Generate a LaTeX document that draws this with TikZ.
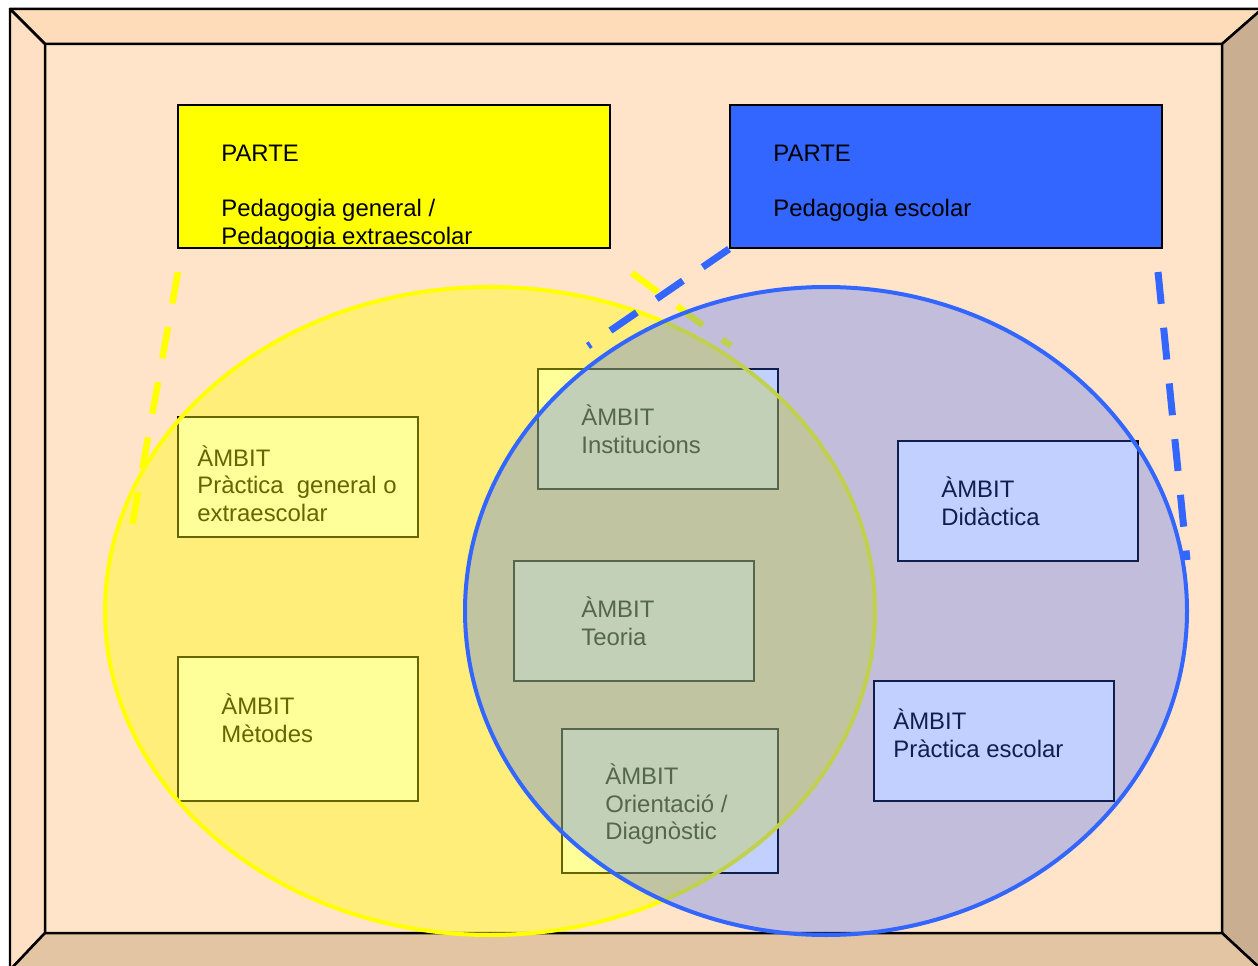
\documentclass[tikz,border=0pt]{standalone}
\usepackage{fontspec}
\setmainfont{Liberation Sans}
\usetikzlibrary{positioning}
\definecolor{peach}{HTML}{FFE4CA}
\definecolor{peachtop}{HTML}{FEDCB9}
\definecolor{peachleft}{HTML}{FFE0C4}
\definecolor{tanright}{HTML}{C9AE92}
\definecolor{tanbottom}{HTML}{E3C5A3}
\definecolor{partblue}{HTML}{3366FF}
\definecolor{partyellow}{HTML}{FFFF00}

\begin{document}
\begin{tikzpicture}[x=0.02cm, y=-0.02cm,
  frame/.style={draw=black, line width=0.05cm, line join=round},
  ambit/.style={rectangle, draw=black, fill=white, line width=0.04cm, minimum width=4.8cm, minimum height=2.4cm, inner sep=0pt},
  parte/.style={rectangle, draw=black, line width=0.04cm, minimum width=8.64cm, minimum height=2.86cm, inner sep=0pt},
  txt/.style={inner sep=0pt, align=left, font=\fontsize{13.6}{15.7}\selectfont},
  yellowdash/.style={draw=partyellow, line width=0.13cm, dash pattern=on 0.64cm off 0.48cm},
  bluedash/.style={draw=partblue, line width=0.14cm, dash pattern=on 0.64cm off 0.48cm}]

  \useasboundingbox (0,0) rectangle (1258,966);

  \fill[peach] (45,44) rectangle (1222,933);
  \filldraw[frame, fill=peachtop] (10,9) -- (1262,9) -- (1222,44) -- (45,44) -- cycle;
  \filldraw[frame, fill=peachleft] (10,9) -- (45,44) -- (45,933) -- (10,970) -- cycle;
  \filldraw[frame, fill=tanright] (1262,9) -- (1262,970) -- (1222,933) -- (1222,44) -- cycle;
  \filldraw[frame, fill=tanbottom] (10,970) -- (45,933) -- (1222,933) -- (1262,970) -- cycle;

  \node[parte, fill=partyellow] (partegen) at (394,176.5) {};
  \node[parte, fill=partblue] (partesc) at (946,176.5) {};
  \node[txt, right=0.88cm of partegen.west, yshift=-0.415cm] (partegentxt)
    {PARTE\\[15.7pt]Pedagogia general /\\Pedagogia extraescolar};
  \node[txt, right=0.88cm of partesc.west, yshift=-0.14cm] (partesctxt)
    {PARTE\\[15.7pt]Pedagogia escolar};

  \node[ambit] (practgen) at (298,477) {};
  \node[ambit, minimum height=2.88cm] (metodes) at (298,729) {};
  \node[ambit] (instit) at (658,429) {};
  \node[ambit] (teoria) at (634,621) {};
  \node[ambit, minimum width=4.32cm, minimum height=2.88cm] (orient) at (670,801) {};
  \node[ambit] (didact) at (1018,501) {};
  \node[ambit] (practesc) at (994,741) {};

  \node[txt, right=0.4cm of practgen.west, yshift=-0.13cm] (practgentxt)
    {ÀMBIT\\Pràctica~ general o\\extraescolar};
  \node[txt, right=0.88cm of metodes.west, yshift=0.21cm] (metodestxt) {ÀMBIT\\Mètodes};
  \node[txt, right=0.88cm of instit.west] (instittxt) {ÀMBIT\\Institucions};
  \node[txt, right=1.36cm of teoria.west] (teoriatxt) {ÀMBIT\\Teoria};
  \node[txt, right=0.88cm of orient.west, yshift=-0.07cm] (orienttxt)
    {ÀMBIT\\Orientació /\\Diagnòstic};
  \node[txt, right=0.88cm of didact.west] (didacttxt) {ÀMBIT\\Didàctica};
  \node[txt, right=0.4cm of practesc.west, yshift=0.15cm] (practesctxt)
    {ÀMBIT\\Pràctica escolar};

  \coordinate (yl1) at (178,272);
  \coordinate (yl2) at (132,526);
  \coordinate (ym1) at (632,273);
  \coordinate (ym2) at (731,346);
  \coordinate (bm2) at (588,346);
  \coordinate (br1) at (1158,272);
  \coordinate (br2) at (1187,560);

  \draw[yellowdash] (yl1) -- (yl2);
  \draw[yellowdash] (ym1) -- (ym2);

  \draw[draw=partyellow, line width=0.08cm, fill=partyellow, fill opacity=0.4]
    (490,611) ellipse [x radius=385, y radius=324];
  \draw[draw=partblue, line width=0.08cm, fill=partblue, fill opacity=0.3]
    (826,611) ellipse [x radius=361, y radius=324];

  \draw[bluedash] (partesc.south west) -- (bm2);
  \draw[bluedash] (br1) -- (br2);
\end{tikzpicture}
\end{document}
